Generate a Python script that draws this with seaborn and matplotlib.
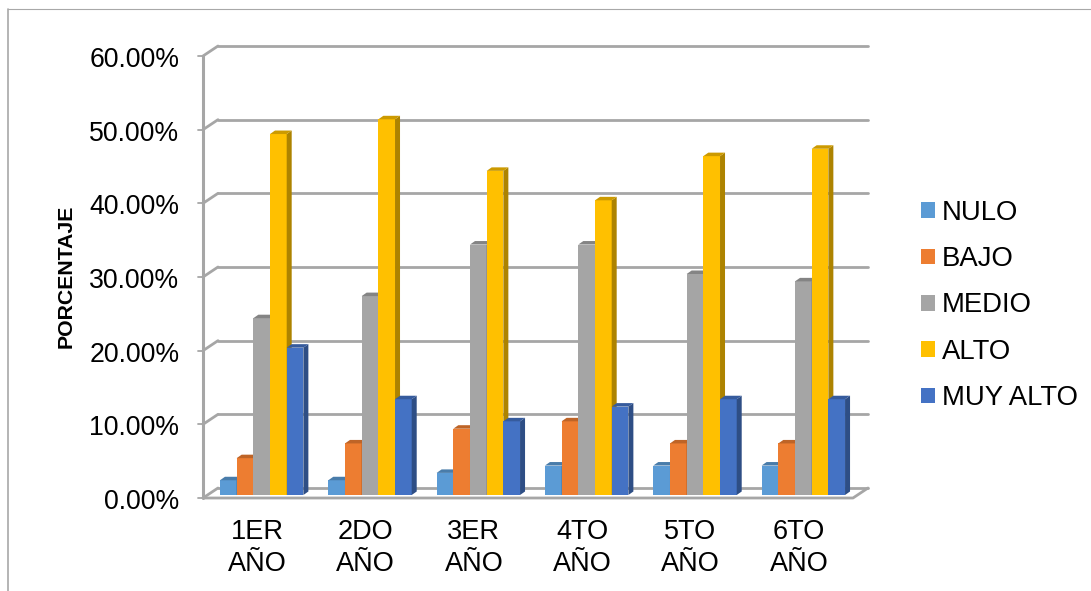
import numpy as np
import pandas as pd
import seaborn as sns
import matplotlib.pyplot as plt
from matplotlib.colors import to_rgb
from matplotlib.lines import Line2D
from matplotlib.patches import Polygon, Patch
from matplotlib.transforms import ScaledTranslation

years = ["1ER\nAÑO", "2DO\nAÑO", "3ER\nAÑO", "4TO\nAÑO", "5TO\nAÑO", "6TO\nAÑO"]
levels = ["NULO", "BAJO", "MEDIO", "ALTO", "MUY ALTO"]
nulo = [2, 2, 3, 4, 4, 4]
bajo = [5, 7, 9, 10, 7, 7]
medio = [24, 27, 34, 34, 30, 29]
alto = [49, 51, 44, 40, 46, 47]
muy_alto = [20, 13, 10, 12, 13, 13]
colors = ["#5B9BD5", "#ED7D31", "#A5A5A5", "#FFC000", "#4472C4"]
yticks = [0, 10, 20, 30, 40, 50, 60]

df = pd.DataFrame({"NULO": nulo, "BAJO": bajo, "MEDIO": medio, "ALTO": alto, "MUY ALTO": muy_alto}, index=years)
df = df.reset_index(names="year").melt(id_vars="year", var_name="level", value_name="pct")

sns.set_style("white")
plt.rcParams["font.family"] = ["Liberation Sans", "DejaVu Sans"]

W, H = 1091, 591
fig = plt.figure(figsize=(W / 100, H / 100), dpi=100)
ax = fig.add_axes([203 / W, 1 - 498 / H, 650 / W, 442 / H])

sns.barplot(data=df, x="year", y="pct", hue="level", order=years, hue_order=levels,
            palette=colors, width=0.77, gap=0, saturation=1, legend=False, linewidth=0, ax=ax)
ax.set_xlim(-0.5, 5.5)
ax.set_ylim(0, 60)

# pixel sizes turned into data units
px_x = 6 / 650
px_y = 60 / 442
grey = "#A6A6A6"
depth_x, depth_y = 15 * px_x, 10 * px_y

# the 3d box behind the bars
for v in yticks:
    ax.plot([-0.5, -0.5 + depth_x], [v, v + depth_y], color=grey, lw=2, clip_on=False, zorder=1, solid_capstyle="round")
    ax.plot([-0.5 + depth_x, 5.5 + depth_x], [v + depth_y, v + depth_y], color=grey, lw=2, clip_on=False, zorder=1)
    ax.plot([-0.5 - 5 * px_x, -0.5], [v, v], color=grey, lw=1.3, clip_on=False, zorder=1)
ax.plot([-0.5, -0.5], [0, 60], color=grey, lw=2.2, clip_on=False, zorder=1)
ax.plot([-0.5, 5.5, 5.5 + depth_x], [0, 0, depth_y], color=grey, lw=2, clip_on=False, zorder=1)

# bars get a front, a side and a top, seaborn only draws the front
bar_dx, bar_dy = 5 * px_x, 3.5 * px_y
shift_x, base = 4.5 * px_x, 3 * px_y
for i, cont in enumerate(ax.containers):
    r, g, b = to_rgb(colors[i])
    for p in cont:
        p.set_x(p.get_x() + shift_x)
        p.set_y(base)
        p.set_zorder(3 + i)
        x0, x1 = p.get_x(), p.get_x() + p.get_width()
        top = base + p.get_height()
        side = Polygon([(x1, base), (x1 + bar_dx, base + bar_dy), (x1 + bar_dx, top + bar_dy), (x1, top)],
                       fc=(r * 0.68, g * 0.68, b * 0.68), ec="none", zorder=3 + i, clip_on=False)
        cap = Polygon([(x0, top), (x0 + bar_dx, top + bar_dy), (x1 + bar_dx, top + bar_dy), (x1, top)],
                      fc=(r * 0.8, g * 0.8, b * 0.8), ec="none", zorder=3 + i, clip_on=False)
        ax.add_patch(side)
        ax.add_patch(cap)

sns.despine(ax=ax, left=True, bottom=True)
ax.set_yticks(yticks)
ax.set_yticklabels([f"{v:.2f}%" for v in yticks], fontsize=19.2, color="black")
ax.tick_params(axis="y", length=0, pad=17)
ax.tick_params(axis="x", length=0, pad=15, labelsize=19.5, labelcolor="black")
nudge = ScaledTranslation(0, -1 / 100, fig.dpi_scale_trans)
for t in ax.get_yticklabels():
    t.set_transform(t.get_transform() + nudge)
for t in ax.get_xticklabels():
    t.set_linespacing(1.32)
ax.set_xlabel("")
ax.set_ylabel("PORCENTAJE", fontsize=15.3, fontweight="bold", color="black")
ax.yaxis.set_label_coords((76 - 203) / 650, 0.5 + 1 / 442)

handles = [Patch(fc=c, ec="none") for c in colors]
leg = ax.legend(handles, levels, frameon=False, fontsize=19.8, loc="center left",
                bbox_to_anchor=((921 - 203) / 650, (498 - 305.5) / 442), handlelength=0.5, handleheight=0.5,
                handletextpad=0.25, labelspacing=0.74, borderpad=0, borderaxespad=0)
for t in leg.get_texts():
    t.set_color("black")

# thin frame of the pasted picture
frame = "#A8A8A8"
fig.add_artist(Line2D([8 / W, 8 / W], [0, 1 - 9 / H], color=frame, lw=1.2))
fig.add_artist(Line2D([8 / W, 1], [1 - 9 / H, 1 - 9 / H], color=frame, lw=0.8))

fig.savefig("out.png", dpi=100)
